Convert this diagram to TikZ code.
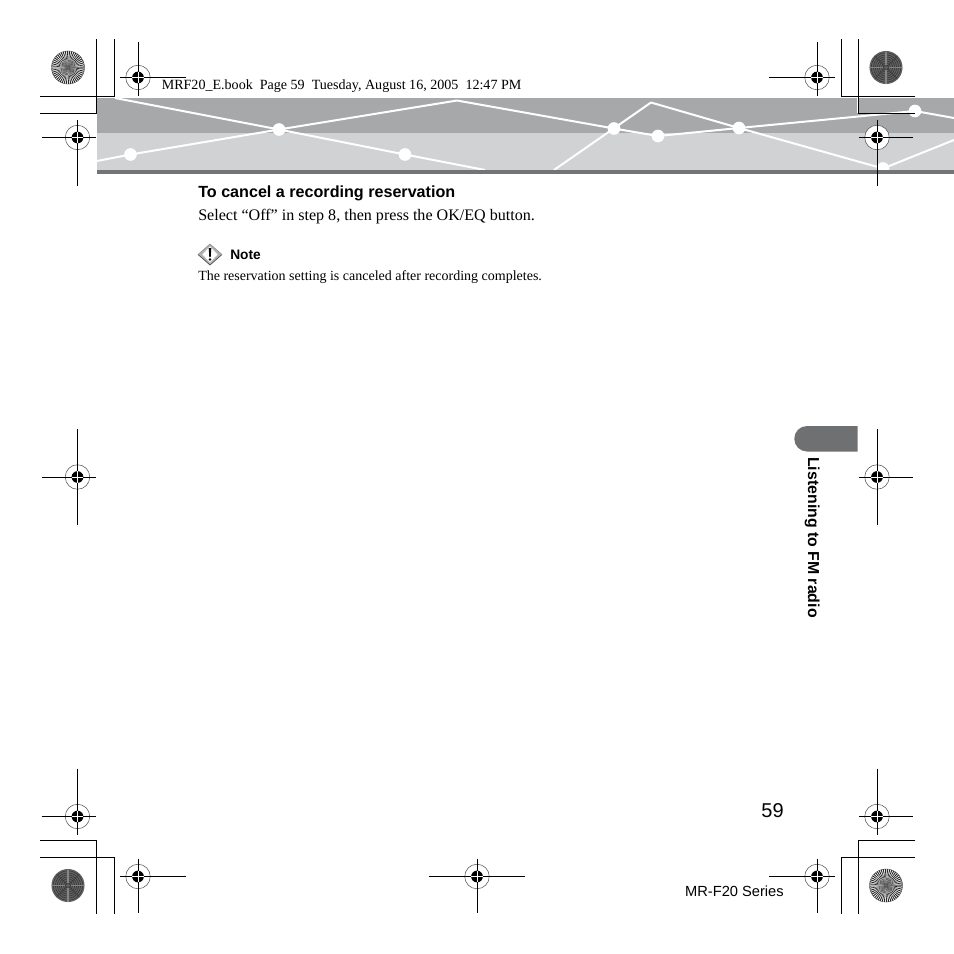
\documentclass[tikz,border=0pt]{standalone}
\usepackage{fontspec}
\setmainfont{Liberation Serif}
\setsansfont{Liberation Sans}
\definecolor{banddark}{HTML}{A7A8AA}
\definecolor{bandlight}{HTML}{D1D2D4}
\definecolor{bandbar}{HTML}{737476}
\definecolor{tabgray}{HTML}{6F7072}
\definecolor{ringgray}{HTML}{555555}
\tikzset{
  cropline/.style={black,line width=0.7pt},
  wireline/.style={white,line width=1.5pt,line join=round},
  wiredot/.style={circle,fill=white,inner sep=0pt,minimum size=9.5pt},
  serifsmall/.style={anchor=base west,inner sep=0pt,font=\fontsize{10.55}{12}\selectfont,text=black},
}
\newcommand{\regmark}[5]{%
  \fill[white] (#1) circle (9.2pt);
  \draw[ringgray,line width=0.4pt] (#1) circle (9.2pt);
  \fill[black] (#1) circle (4.4pt);
  \draw[cropline] ($(#1)+(-#2,0)$) -- ($(#1)+(#3,0)$);
  \draw[cropline] ($(#1)+(0,#4)$) -- ($(#1)+(0,-#5)$);
  \draw[white,line width=0.2pt] ($(#1)+(-4.4pt,0)$) -- ($(#1)+(4.4pt,0)$);
  \draw[white,line width=0.2pt] ($(#1)+(0,-4.4pt)$) -- ($(#1)+(0,4.4pt)$);
}
\newcommand{\spokedisc}[1]{%
  \fill[white] (#1) circle (12.4pt);
  \foreach \a in {0,7.5,...,352.5}{
    \fill[black!85] (#1) -- ($(#1)+(\a:12.4pt)$) arc (\a:\a+3.75:12.4pt) -- cycle;
  }
  \draw[black!70,line width=0.3pt] (#1) circle (12.4pt);
  \foreach \r in {9,6}{\draw[white!40!gray,line width=0.2pt] (#1) circle (\r pt);}
  \fill[black!60] (#1) circle (1.2pt);
}
\newcommand{\moiredisc}[1]{%
  \fill[black!62] (#1) circle (12.4pt);
  \foreach \r in {2,3.5,...,12}{\draw[black!80,line width=0.4pt] (#1) circle (\r pt);}
  \foreach \a in {0,90,180,270}{
    \draw[black!48,line width=1.4pt] ($(#1)+(\a:2pt)$) -- ($(#1)+(\a:12pt)$);
    \draw[black!78,line width=0.5pt] ($(#1)+(\a+45:1pt)$) -- ($(#1)+(\a+45:12pt)$);
  }
}
\usetikzlibrary{calc}
\begin{document}
\begin{tikzpicture}[x=0.75pt,y=-0.75pt]
\useasboundingbox (0,0) rectangle (954,954);
\fill[banddark] (97,98) rectangle (954,133);
\fill[bandlight] (97,133) rectangle (954,170);
\begin{scope}
\clip (97,98) rectangle (954,170);
\coordinate (a0) at (115,98);
\coordinate (a1) at (279,129.5);
\coordinate (a2) at (405,154.5);
\coordinate (a3) at (485,170);
\coordinate (b0) at (97,161);
\coordinate (b1) at (130.5,154.5);
\coordinate (b2) at (457,100.5);
\coordinate (b3) at (614,128.5);
\coordinate (b4) at (658,136);
\coordinate (b5) at (739,128);
\coordinate (b6) at (915,111);
\coordinate (b7) at (954,118);
\coordinate (c0) at (554,170);
\coordinate (c1) at (651,102.5);
\coordinate (c2) at (883,168.5);
\coordinate (c3) at (954,140);
\draw[wireline] (a0) -- (a1) -- (a2) -- (a3);
\draw[wireline] (b0) -- (b1) -- (a1) -- (b2) -- (b3) -- (b4) -- (b5) -- (b6) -- (b7);
\draw[wireline] (c0) -- (c1) -- (b5) -- (c2) -- (c3);
\foreach \p in {a1,a2,b1,b3,b4,b5,b6,c2}{\node[wiredot] at (\p) {};}
\end{scope}
\fill[bandbar] (97,170) rectangle (954,174);
\draw[white,line width=0.5pt] (857,98) -- (857,113);
\draw[cropline] (40,113) -- (96.5,113) -- (96.5,39);
\draw[cropline] (40,96.5) -- (114.5,96.5) -- (114.5,39);
\draw[cropline] (915,96.5) -- (841.5,96.5) -- (841.5,39);
\draw[cropline] (915,113) -- (858.5,113) -- (858.5,39);
\draw[cropline] (40,840.5) -- (96.5,840.5) -- (96.5,914);
\draw[cropline] (40,857.5) -- (114.5,857.5) -- (114.5,914);
\draw[cropline] (915,840.5) -- (858.5,840.5) -- (858.5,914);
\draw[cropline] (915,857.5) -- (841.5,857.5) -- (841.5,914);
\coordinate (r1) at (138,77.5);
\coordinate (r2) at (77.5,137.5);
\coordinate (r3) at (817,77.5);
\coordinate (r4) at (877,137.5);
\coordinate (r5) at (77.5,816.5);
\coordinate (r6) at (138,876.5);
\coordinate (r7) at (817,876.5);
\coordinate (r8) at (877,816.5);
\coordinate (r9) at (477,876.5);
\coordinate (r10) at (77.5,477);
\coordinate (r11) at (877,477);
\regmark{r1}{13.5pt}{36pt}{27pt}{13.5pt}
\regmark{r2}{27pt}{13.5pt}{13.5pt}{36pt}
\regmark{r3}{36pt}{13.5pt}{27pt}{13.5pt}
\regmark{r4}{13.5pt}{27pt}{13.5pt}{36pt}
\regmark{r5}{27pt}{13.5pt}{36pt}{13.5pt}
\regmark{r6}{13.5pt}{36pt}{13.5pt}{27pt}
\regmark{r7}{36pt}{13.5pt}{13.5pt}{27pt}
\regmark{r8}{13.5pt}{27pt}{36pt}{13.5pt}
\regmark{r9}{36pt}{36pt}{13.5pt}{27pt}
\regmark{r10}{27pt}{13.5pt}{36pt}{36pt}
\regmark{r11}{13.5pt}{27pt}{36pt}{36pt}
\coordinate (d1) at (68,67.5);
\coordinate (d2) at (886,67.5);
\coordinate (d3) at (68,885.5);
\coordinate (d4) at (886,885.5);
\spokedisc{d1}
\moiredisc{d2}
\moiredisc{d3}
\spokedisc{d4}
\node[serifsmall] (hdr) at (161.5,89) {MRF20\_E.book\ \ Page 59\ \ Tuesday, August 16, 2005\ \ 12:47 PM};
\node[anchor=base west,inner sep=0pt,font=\sffamily\bfseries\fontsize{12.1}{14}\selectfont] (head) at (198,197) {To cancel a recording reservation};
\node[anchor=base west,inner sep=0pt,font=\fontsize{12.05}{14}\selectfont] (body) at (198,220) {Select “Off” in step 8, then press the OK/EQ button.};
\node[anchor=base west,inner sep=0pt,font=\sffamily\bfseries\fontsize{10.3}{12}\selectfont] (note) at (230,259) {Note};
\node[anchor=base west,inner sep=0pt,font=\fontsize{10.5}{12}\selectfont] (ntxt) at (198,280) {The reservation setting is canceled after recording completes.};
\coordinate (ic) at (210,254.5);
\fill[black!30] ($(ic)+(-12,0)$) -- ($(ic)+(0,-10.5)$) -- ($(ic)+(12,0)$) -- ($(ic)+(0,10.5)$) -- cycle;
\draw[black!70,line width=0.5pt] ($(ic)+(-12,0)$) -- ($(ic)+(0,10.5)$) -- ($(ic)+(12,0)$);
\draw[black!45,line width=0.4pt] ($(ic)+(-12,0)$) -- ($(ic)+(0,-10.5)$) -- ($(ic)+(12,0)$);
\fill[white] ($(ic)+(-7.5,0)$) -- ($(ic)+(0,-8)$) -- ($(ic)+(7.5,0)$) -- ($(ic)+(0,8)$) -- cycle;
\fill[black] ($(ic)+(-1.3,-6.5)$) -- ($(ic)+(1.3,-6.5)$) -- ($(ic)+(0.7,2.5)$) -- ($(ic)+(-0.7,2.5)$) -- cycle;
\fill[black] ($(ic)+(0,5)$) circle (1.4);
\fill[tabgray] (857.5,426) -- (807,426) arc (270:90:12.75) -- (857.5,451.5) -- cycle;
\node[anchor=north west,inner sep=0pt,rotate=-90,font=\sffamily\bfseries\fontsize{11.9}{14}\selectfont] (side) at (820,457) {Listening to FM radio};
\node[anchor=base east,inner sep=0pt,font=\sffamily\fontsize{15}{17}\selectfont] (pg) at (784,817) {59};
\node[anchor=base east,inner sep=0pt,font=\sffamily\fontsize{11}{13}\selectfont] (ser) at (784,896) {MR-F20 Series};
\end{tikzpicture}
\end{document}
